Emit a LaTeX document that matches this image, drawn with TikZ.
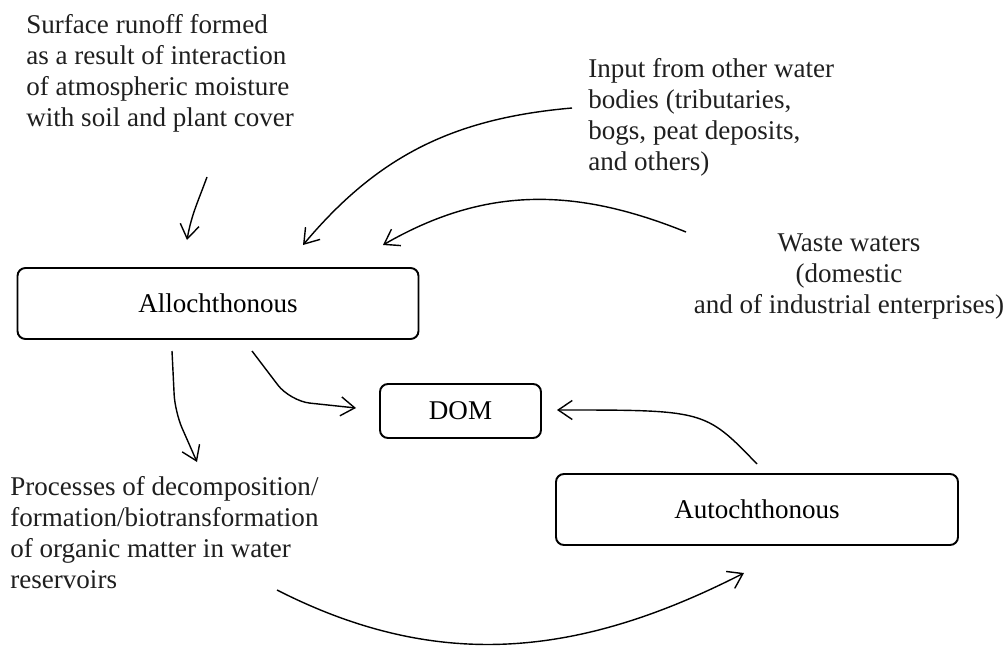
\documentclass[tikz,border=0pt]{standalone}
\usepackage{fontspec}
\setmainfont{Liberation Serif}
\usetikzlibrary{arrows.meta}

\begin{document}
\begin{tikzpicture}[font=\fontsize{15.4}{17.6}\selectfont,
        box/.style={draw,rounded corners=0.16cm,line width=1.1pt,minimum height=1.42cm,inner sep=0pt},
        txt/.style={inner sep=0pt,anchor=north west,align=left,text=black!88},
        flow/.style={-{Straight Barb[length=0.28cm,width=0.38cm]},line width=0.8pt}]
        \useasboundingbox (0,0) rectangle (20.14,12.92);
        \node[box,minimum width=8.02cm] (allo) at (4.36,6.85) {Allochthonous};
        \node[box,minimum width=3.22cm,minimum height=1.08cm] (dom) at (9.21,4.70) {DOM};
        \node[box,minimum width=8.04cm] (auto) at (15.14,2.73) {Autochthonous};
        \node[txt] (runoff) at (0.52,12.63) {Surface runoff formed\\as a result of interaction\\of atmospheric moisture\\with soil and plant cover};
        \node[txt] (input) at (11.76,11.75) {Input from other water\\bodies (tributaries,\\bogs, peat deposits,\\and others)};
        \node[txt,anchor=north,align=center] (waste) at (16.98,8.25) {Waste waters\\(domestic\\and of industrial enterprises)};
        \node[txt] (proc) at (0.2,3.39) {Processes of decomposition/\\formation/biotransformation\\of organic matter in water\\reservoirs};
        \coordinate (runoffout) at (4.14,9.38);
        \coordinate (runoffin) at (3.74,8.12);
        \coordinate (inputout) at (11.44,10.76);
        \coordinate (inputin) at (6.06,8.02);
        \coordinate (wasteout) at (13.72,8.28);
        \coordinate (wastein) at (7.66,8.02);
        \coordinate (procout) at (3.44,5.90);
        \coordinate (procin) at (3.94,3.68);
        \coordinate (domout) at (5.04,5.90);
        \coordinate (domin) at (7.12,4.76);
        \coordinate (autoout) at (15.14,3.64);
        \coordinate (autoin) at (11.14,4.72);
        \coordinate (cycleout) at (5.54,1.12);
        \coordinate (cyclein) at (14.88,1.46);
        \draw[flow] (runoffout) to[out=-110,in=80] (runoffin);
        \draw[flow] (inputout) to[out=185,in=50] (inputin);
        \draw[flow] (wasteout) to[out=158,in=30] (wastein);
        \draw[flow,rounded corners=0.35cm] (procout) -- (3.50,4.68) -- (procin);
        \draw[flow,rounded corners=0.4cm] (domout) -- (5.80,4.90) -- (domin);
        \draw[flow] (autoout) .. controls (14.1,4.72) .. (autoin);
        \draw[flow] (cycleout) to[out=-27,in=207] (cyclein);
    \end{tikzpicture}
\end{document}
